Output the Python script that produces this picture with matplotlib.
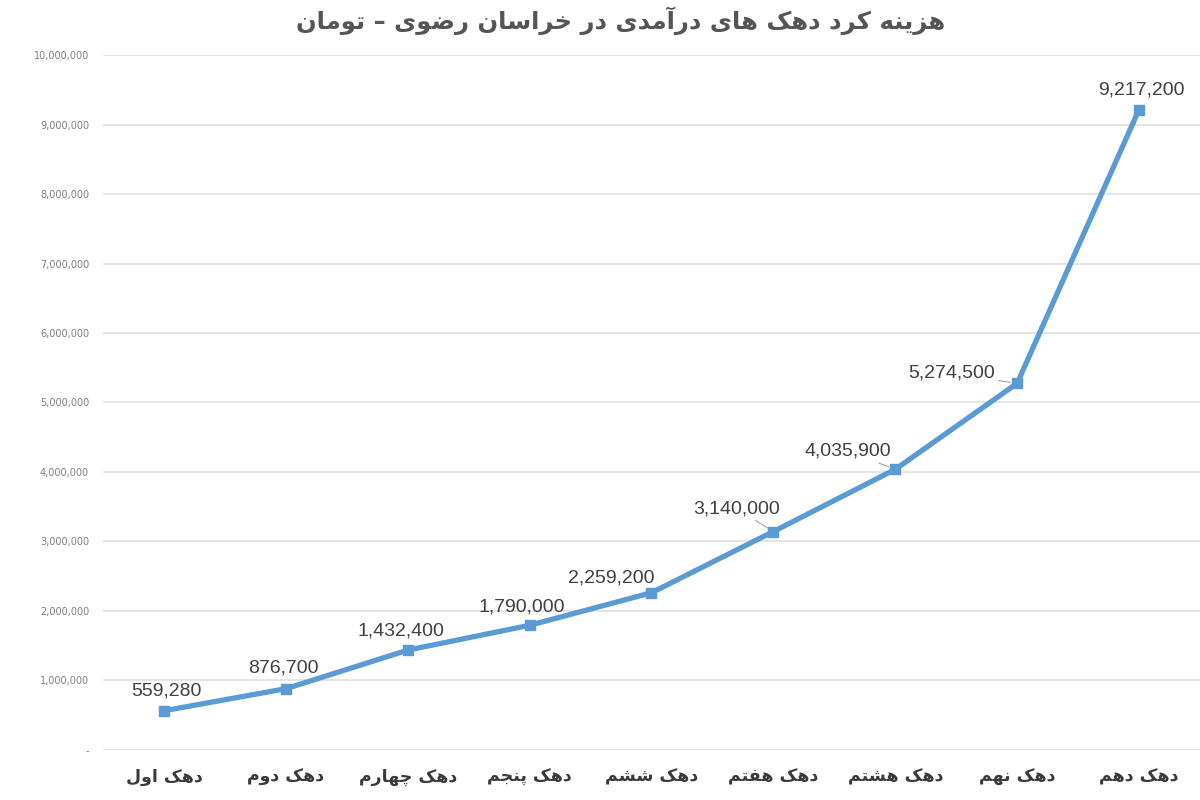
import matplotlib
matplotlib.use('Agg')
import matplotlib.pyplot as plt
from matplotlib.ticker import FuncFormatter

# ── Data ──────────────────────────────────────────────────────────────────────
TITLE = "هزینه کرد دهک های درآمدی در خراسان رضوی – تومان"
categories = ["دهک اول", "دهک دوم", "دهک چهارم", "دهک پنجم", "دهک ششم",
              "دهک هفتم", "دهک هشتم", "دهک نهم", "دهک دهم"]
spending = [559280, 876700, 1432400, 1790000, 2259200,
            3140000, 4035900, 5274500, 9217200]
y_ticks = list(range(0, 10000001, 1000000))

# label centre offsets in points (dx, dy) from each marker; True = leader line
label_offsets = [(2, 14.4), (-1.5, 15), (-5, 13.7), (-5.8, 13), (-29, 10.8),
                 (-26.6, 16.6), (-34, 13), (-47.5, 7.2), (1.5, 14.4)]
leader = [False, False, False, False, False, True, True, True, False]

# ── Minimal Persian shaping (matplotlib has no bidi / joining) ────────────────
# letter: (isolated, final, initial, medial); two-form letters don't join forward
FORMS = {
    'ا': (0xFE8D, 0xFE8E), 'آ': (0xFE81, 0xFE82),
    'د': (0xFEA9, 0xFEAA), 'ر': (0xFEAD, 0xFEAE),
    'ز': (0xFEAF, 0xFEB0), 'و': (0xFEED, 0xFEEE),
    'ب': (0xFE8F, 0xFE90, 0xFE91, 0xFE92),
    'پ': (0xFB56, 0xFB57, 0xFB58, 0xFB59),
    'ت': (0xFE95, 0xFE96, 0xFE97, 0xFE98),
    'ج': (0xFE9D, 0xFE9E, 0xFE9F, 0xFEA0),
    'چ': (0xFB7A, 0xFB7B, 0xFB7C, 0xFB7D),
    'خ': (0xFEA5, 0xFEA6, 0xFEA7, 0xFEA8),
    'س': (0xFEB1, 0xFEB2, 0xFEB3, 0xFEB4),
    'ش': (0xFEB5, 0xFEB6, 0xFEB7, 0xFEB8),
    'ض': (0xFEBD, 0xFEBE, 0xFEBF, 0xFEC0),
    'ف': (0xFED1, 0xFED2, 0xFED3, 0xFED4),
    'ک': (0xFB8E, 0xFB8F, 0xFB90, 0xFB91),
    'ل': (0xFEDD, 0xFEDE, 0xFEDF, 0xFEE0),
    'م': (0xFEE1, 0xFEE2, 0xFEE3, 0xFEE4),
    'ن': (0xFEE5, 0xFEE6, 0xFEE7, 0xFEE8),
    'ه': (0xFEE9, 0xFEEA, 0xFEEB, 0xFEEC),
    'ی': (0xFBFC, 0xFBFD, 0xFBFE, 0xFBFF),
}


def fa(text):
    out = []
    for i, ch in enumerate(text):
        f = FORMS.get(ch)
        if f is None:
            out.append(ch)
            continue
        prev = FORMS.get(text[i - 1]) if i > 0 else None
        nxt = FORMS.get(text[i + 1]) if i + 1 < len(text) else None
        joins_prev = prev is not None and len(prev) == 4
        joins_next = nxt is not None and len(f) == 4
        if joins_prev and joins_next:
            code = f[3]
        elif joins_prev:
            code = f[1]
        elif joins_next:
            code = f[2]
        else:
            code = f[0]
        out.append(chr(code))
    return ''.join(reversed(out))


# ── Plot ──────────────────────────────────────────────────────────────────────
LINE_COLOR = '#5B9BD5'
x = list(range(len(categories)))

fig = plt.figure(figsize=(12, 8), dpi=100)
ax = fig.add_axes([0.0858, 0.063, 0.9142, 0.868])

ax.plot(x, spending, color=LINE_COLOR, linewidth=3.8, marker='s',
        markersize=7.5, clip_on=False, zorder=3)

for xi, val, (dx, dy), lead in zip(x, spending, label_offsets, leader):
    props = dict(arrowstyle='-', color='#a6a6a6', lw=0.8, shrinkA=1, shrinkB=5) if lead else None
    ax.annotate(f"{val:,}", (xi, val), xytext=(dx, dy), textcoords='offset points',
                ha='center', va='center', fontsize=14, color='#404040',
                family='Liberation Sans', arrowprops=props)

ax.set_xlim(-0.5, len(categories) - 0.5)
ax.set_ylim(0, 10000000)
ax.set_yticks(y_ticks)
ax.yaxis.set_major_formatter(FuncFormatter(lambda v, p: '-' if v == 0 else f"{int(v):,}"))
ax.tick_params(axis='y', length=0, labelsize=7, labelcolor='#7f7f7f', pad=10)
ax.set_xticks(x)
ax.set_xticklabels([fa(c) for c in categories], fontsize=12.5, fontweight='bold',
                   color='#3a3a3a', family='DejaVu Sans')
ax.tick_params(axis='x', length=0, pad=13)

ax.grid(axis='y', color='#e3e3e3', linewidth=1.3)
ax.set_axisbelow(True)
for s in ax.spines.values():
    s.set_visible(False)

fig.text(0.517, 0.974, fa(TITLE), ha='center', va='center', fontsize=17.5,
         fontweight='bold', color='#555555', family='DejaVu Sans')

plt.savefig('out.png', dpi=100)
plt.close()
